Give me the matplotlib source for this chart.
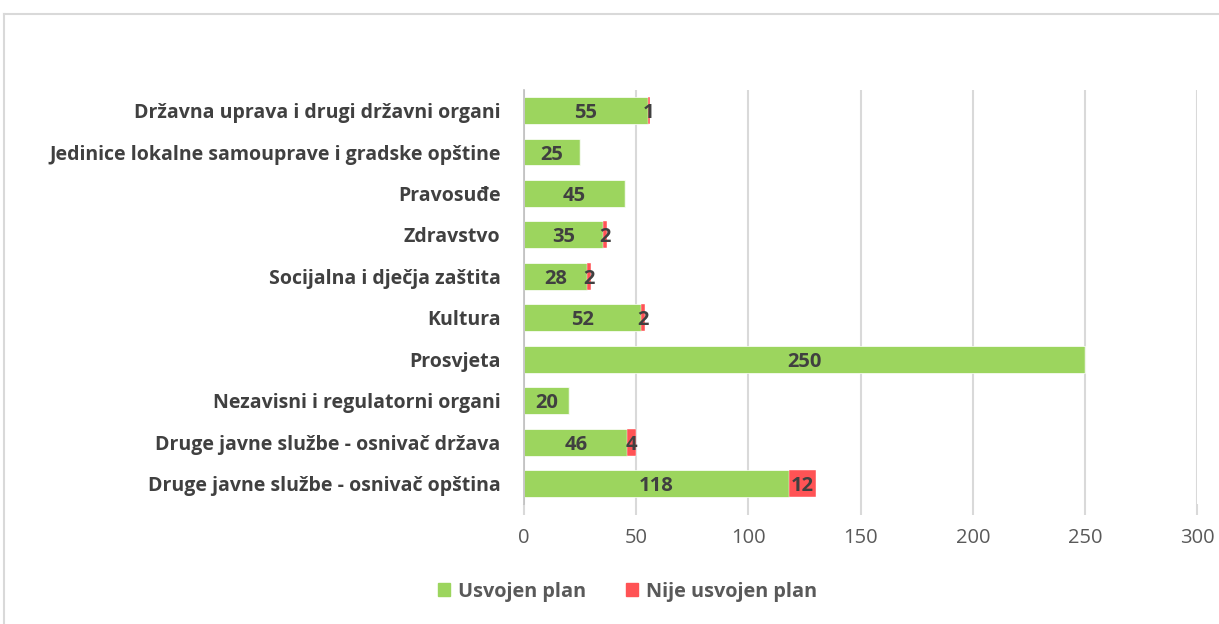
import matplotlib.pyplot as plt
from matplotlib.lines import Line2D
from matplotlib.patches import Patch

plt.rcParams['font.family'] = ['Open Sans', 'DejaVu Sans']

categories = ['Državna uprava i drugi državni organi',
              'Jedinice lokalne samouprave i gradske opštine',
              'Pravosuđe',
              'Zdravstvo',
              'Socijalna i dječja zaštita',
              'Kultura',
              'Prosvjeta',
              'Nezavisni i regulatorni organi',
              'Druge javne službe - osnivač država',
              'Druge javne službe - osnivač opština']
usvojen = [55, 25, 45, 35, 28, 52, 250, 20, 46, 118]
nije_usvojen = [1, 0, 0, 2, 2, 2, 0, 0, 4, 12]
xticks = [0, 50, 100, 150, 200, 250, 300]

green = '#9CD55E'
red = '#FF5355'
grid_col = '#D9D9D9'
txt = '#404040'

fig = plt.figure(figsize=(12.19, 6.24), dpi=100)
ax = fig.add_axes([0.430, 0.192, 0.552, 0.664])

y = list(range(len(categories)))
ax.barh(y, usvojen, height=0.65, color=green, edgecolor='white', linewidth=0.5, zorder=3)
ax.barh(y, nije_usvojen, left=usvojen, height=0.65, color=red, edgecolor='white', linewidth=0.3, zorder=3)

for i in y:
    ax.text(usvojen[i] / 2, i, str(usvojen[i]), ha='center', va='center_baseline',
            fontsize=14.5, fontweight='bold', color=txt, zorder=4)
    if nije_usvojen[i] > 0:
        ax.text(usvojen[i] + nije_usvojen[i] / 2, i, str(nije_usvojen[i]), ha='center',
                va='center_baseline', fontsize=14.5, fontweight='bold', color=txt, zorder=4)

ax.set_xlim(0, 300)
ax.set_ylim(len(categories) - 0.5, -0.5)
ax.set_yticks(y)
ax.set_yticklabels(categories, fontsize=14, fontweight='bold', color=txt)
ax.set_xticks(xticks)
ax.set_xticklabels([str(t) for t in xticks], fontsize=14.5, color='#595959')
ax.tick_params(axis='y', length=0, pad=17)
ax.tick_params(axis='x', length=8, color=grid_col, width=1.5, pad=9)
ax.grid(axis='x', color=grid_col, linewidth=1.5, zorder=0)
for s in ['top', 'right', 'bottom']:
    ax.spines[s].set_visible(False)
ax.spines['left'].set_color('#BFBFBF')
ax.spines['left'].set_linewidth(1.2)
ax.spines['left'].set_zorder(5)

handles = [Patch(color=green, label='Usvojen plan'), Patch(color=red, label='Nije usvojen plan')]
leg = fig.legend(handles=handles, loc='center', bbox_to_anchor=(0.515, 0.052), ncol=2, frameon=False,
                 handlelength=0.6, handleheight=0.6, handletextpad=0.4, columnspacing=2.0,
                 prop={'size': 14.3, 'weight': 'bold'})
for t in leg.get_texts():
    t.set_color('#595959')

# okvir grafikona
fig.add_artist(Line2D([4 / 1219, 1.0], [1 - 14 / 624, 1 - 14 / 624], color=grid_col, linewidth=1.5))
fig.add_artist(Line2D([4 / 1219, 4 / 1219], [0, 1 - 14 / 624], color=grid_col, linewidth=1.5))

plt.savefig('out.png', dpi=100)
